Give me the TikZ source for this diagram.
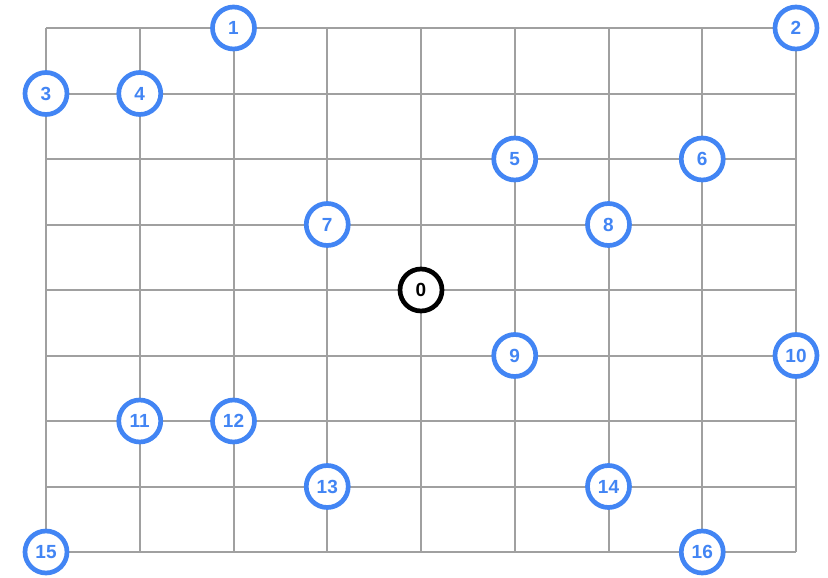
\documentclass[tikz,border=0pt]{standalone}
\usepackage{fontspec}
\setmainfont{Liberation Sans}
\definecolor{nodeblue}{HTML}{4285F4}
\definecolor{gridgray}{HTML}{A0A0A0}
\begin{document}
\begin{tikzpicture}[x=93.75pt, y=-65.5pt,
  gridline/.style={draw=gridgray, line width=2pt},
  vert/.style={circle, draw=nodeblue, text=nodeblue, line width=4.7pt, fill=white,
    minimum size=42pt, inner sep=0pt, font=\bfseries\fontsize{19}{19}\selectfont},
  origin/.style={vert, draw=black, text=black}]
\useasboundingbox (-0.4907,-0.4275) rectangle (8.3413,8.3817);
\foreach \i in {0,...,8} {
  \draw[gridline] (\i,0) -- (\i,8);
  \draw[gridline] (0,\i) -- (8,\i);
}
\node[origin] (n0) at (4,4) {0};
\node[vert] (n1) at (2,0) {1};
\node[vert] (n2) at (8,0) {2};
\node[vert] (n3) at (0,1) {3};
\node[vert] (n4) at (1,1) {4};
\node[vert] (n5) at (5,2) {5};
\node[vert] (n6) at (7,2) {6};
\node[vert] (n7) at (3,3) {7};
\node[vert] (n8) at (6,3) {8};
\node[vert] (n9) at (5,5) {9};
\node[vert] (n10) at (8,5) {10};
\node[vert] (n11) at (1,6) {11};
\node[vert] (n12) at (2,6) {12};
\node[vert] (n13) at (3,7) {13};
\node[vert] (n14) at (6,7) {14};
\node[vert] (n15) at (0,8) {15};
\node[vert] (n16) at (7,8) {16};
\end{tikzpicture}
\end{document}
